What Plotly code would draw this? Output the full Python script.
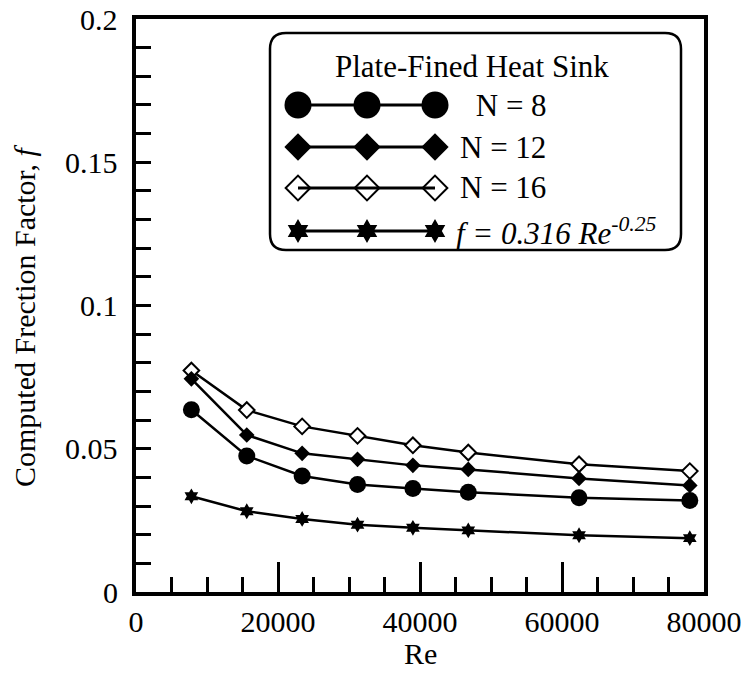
import plotly.graph_objects as go

# ---- data ----
re_vals = [7800, 15600, 23400, 31200, 39000, 46800, 62400, 78000]
f_n8 = [0.0636, 0.0475, 0.0405, 0.0375, 0.0361, 0.0348, 0.0329, 0.0319]
f_n12 = [0.0744, 0.0548, 0.0484, 0.0463, 0.0442, 0.0428, 0.0396, 0.0372]
f_n16 = [0.0773, 0.0635, 0.0578, 0.0545, 0.0512, 0.0487, 0.0446, 0.0422]
f_blasius = [0.0334, 0.0282, 0.0255, 0.0235, 0.0224, 0.0215, 0.0198, 0.0188]

x_ticks = [0, 20000, 40000, 60000, 80000]
y_ticks = [0, 0.05, 0.1, 0.15, 0.2]
y_tick_labels = ["0", "0.05", "0.1", "0.15", "0.2"]

legend_title = "Plate-Fined Heat Sink"
legend_labels = [" N = 8", "N = 12", "N = 16", "<i>f = 0.316 Re</i><sup><i>-0.25</i></sup>"]
x_title = "Re"
y_title = "Computed Frection Factor, <i>f</i>"

FONT = "Liberation Serif, Times New Roman, DejaVu Serif, serif"
W, H = 744, 680
L, R, T, B = 136, 40, 19, 88
PW, PH = W - L - R, H - T - B

fig = go.Figure()

line = dict(color="black", width=2.5)
fig.add_trace(go.Scatter(x=re_vals, y=f_n16, mode="lines+markers", line=line,
                         marker=dict(symbol="diamond", size=12, color="white",
                                     line=dict(color="black", width=2)), showlegend=False))
fig.add_trace(go.Scatter(x=re_vals, y=f_n12, mode="lines+markers", line=line,
                         marker=dict(symbol="diamond", size=12, color="black"), showlegend=False))
fig.add_trace(go.Scatter(x=re_vals, y=f_n8, mode="lines+markers", line=line,
                         marker=dict(symbol="circle", size=17, color="black"), showlegend=False))
fig.add_trace(go.Scatter(x=re_vals, y=f_blasius, mode="lines+markers", line=line,
                         marker=dict(symbol="hexagram", size=12, color="black"), showlegend=False))

# ---- custom legend drawn on a hidden pixel-unit overlay axis ----
def px_x(p):
    return p - L

def px_y(p):
    return (T + PH) - p

def paper_x(p):
    return (p - L) / PW

def paper_y(p):
    return (T + PH - p) / PH

leg_x = [px_x(298), px_x(367), px_x(435)]
leg_rows = [105, 147, 188, 231]
leg_markers = [
    dict(symbol="circle", size=27, color="black"),
    dict(symbol="diamond", size=21, color="black"),
    dict(symbol="diamond-open", size=19, color="black", line=dict(color="black", width=2)),
    dict(symbol="hexagram", size=18, color="black"),
]
for row, mk in zip(leg_rows, leg_markers):
    fig.add_trace(go.Scatter(x=leg_x, y=[px_y(row)] * 3, xaxis="x2", yaxis="y2",
                             mode="lines+markers", line=dict(color="black", width=3),
                             marker=mk, showlegend=False, hoverinfo="skip"))

lab_x = [466, 458, 458, 454]
annotations = [dict(x=paper_x(472), y=paper_y(67), xref="paper", yref="paper",
                    text=legend_title, showarrow=False, xanchor="center", yanchor="middle",
                    font=dict(family=FONT, size=31, color="black"))]
for lx, row, lab in zip(lab_x, leg_rows, legend_labels):
    annotations.append(dict(x=paper_x(lx), y=paper_y(row), xref="paper", yref="paper",
                            text=lab, showarrow=False, xanchor="left", yanchor="middle",
                            font=dict(family=FONT, size=31, color="black")))
# y tick labels (placed with a wider gap from the axis, as in the reference)
for v, t in zip(y_ticks, y_tick_labels):
    annotations.append(dict(x=paper_x(120), y=v, xref="paper", yref="y", text=t,
                            showarrow=False, xanchor="right", yanchor="middle",
                            font=dict(family=FONT, size=30, color="black")))
# axis titles
annotations.append(dict(x=paper_x(420), y=paper_y(653), xref="paper", yref="paper",
                        text=x_title, showarrow=False, xanchor="center", yanchor="middle",
                        font=dict(family=FONT, size=30, color="black")))
annotations.append(dict(x=paper_x(25), y=paper_y(316), xref="paper", yref="paper",
                        text=y_title, showarrow=False, xanchor="center", yanchor="middle",
                        textangle=-90, font=dict(family=FONT, size=30, color="black")))

# rounded legend box
bx0, bx1 = paper_x(270), paper_x(681)
by0, by1 = paper_y(250), paper_y(33)
rx, ry = 16 / PW, 16 / PH
path = (f"M {bx0+rx},{by1} L {bx1-rx},{by1} Q {bx1},{by1} {bx1},{by1-ry} "
        f"L {bx1},{by0+ry} Q {bx1},{by0} {bx1-rx},{by0} "
        f"L {bx0+rx},{by0} Q {bx0},{by0} {bx0},{by0+ry} "
        f"L {bx0},{by1-ry} Q {bx0},{by1} {bx0+rx},{by1} Z")
shapes = [dict(type="path", path=path, xref="paper", yref="paper",
               line=dict(color="black", width=2.5), fillcolor="white", layer="below")]

axis_common = dict(showline=True, linecolor="black", linewidth=4, mirror=True,
                   ticks="inside", tickcolor="black", tickwidth=3, showgrid=False,
                   zeroline=False, automargin=False,
                   tickfont=dict(family=FONT, size=30, color="black"))

fig.update_layout(
    width=W, height=H,
    margin=dict(l=L, r=R, t=T, b=B),
    paper_bgcolor="white", plot_bgcolor="rgba(0,0,0,0)",
    showlegend=False,
    font=dict(family=FONT, color="black"),
    xaxis=dict(range=[0, 80000], tickvals=x_ticks, tickformat="d", ticklen=30,
               minor=dict(dtick=5000, ticks="inside", ticklen=15, tickwidth=3, tickcolor="black"),
               **axis_common),
    yaxis=dict(range=[0, 0.2], tickvals=y_ticks, ticklen=15, showticklabels=False,
               minor=dict(dtick=0.01, ticks="inside", ticklen=15, tickwidth=3, tickcolor="black"),
               **axis_common),
    xaxis2=dict(overlaying="x", range=[0, PW], visible=False, fixedrange=True),
    yaxis2=dict(overlaying="y", range=[0, PH], visible=False, fixedrange=True),
    annotations=annotations,
    shapes=shapes,
)

fig.write_html("out.html")
